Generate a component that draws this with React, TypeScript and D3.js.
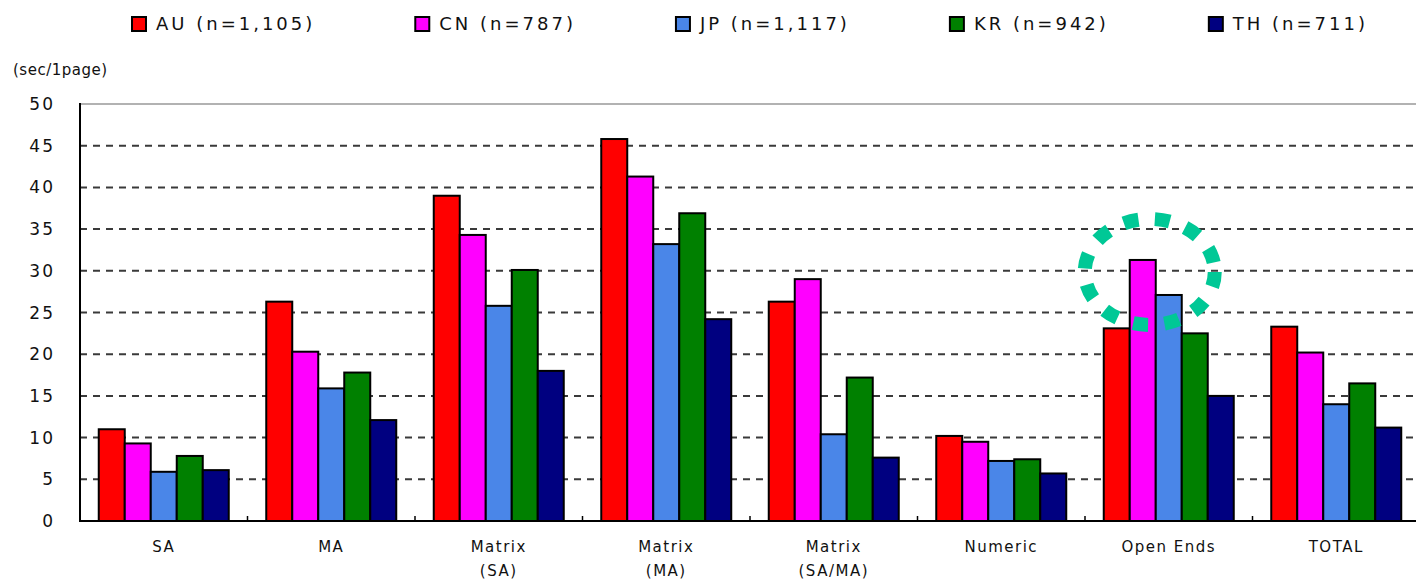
import React, { useRef, useEffect } from 'react';
import * as d3 from 'd3';

// categories (multi-line labels) and series
const categories = ['SA', 'MA', 'Matrix (SA)', 'Matrix (MA)', 'Matrix (SA/MA)', 'Numeric', 'Open Ends', 'TOTAL'];
const categoryLines = [['SA'], ['MA'], ['Matrix', '(SA)'], ['Matrix', '(MA)'], ['Matrix', '(SA/MA)'], ['Numeric'], ['Open Ends'], ['TOTAL']];
const series = ['AU', 'CN', 'JP', 'KR', 'TH'];
const seriesLabels = ['AU (n=1,105)', 'CN (n=787)', 'JP (n=1,117)', 'KR (n=942)', 'TH (n=711)'];
const colors = ['#ff0000', '#ff00ff', '#4a86e8', '#008000', '#000080'];

// values, sec per page
const AU = [11.0, 26.3, 39.0, 45.8, 26.3, 10.2, 23.1, 23.3];
const CN = [9.3, 20.3, 34.3, 41.3, 29.0, 9.5, 31.3, 20.2];
const JP = [5.9, 15.9, 25.8, 33.2, 10.4, 7.2, 27.1, 14.0];
const KR = [7.8, 17.8, 30.1, 36.9, 17.2, 7.4, 22.5, 16.5];
const TH = [6.1, 12.1, 18.0, 24.2, 7.6, 5.7, 15.0, 11.2];
const values = [AU, CN, JP, KR, TH];

const yTicks = [0, 5, 10, 15, 20, 25, 30, 35, 40, 45, 50];
const yUnit = '(sec/1page)';

// the circled bar
const highlightCategory = 'Open Ends';
const highlightSeries = 'CN';

const FONT = '"DejaVu Sans", sans-serif';

const App = () => {
  const svgRef = useRef(null);

  useEffect(() => {
    const width = 1416;
    const height = 580;
    const left = 80;
    const right = 1420;
    const top = 104;
    const bottom = 521;

    const svg = d3.select(svgRef.current);
    svg.selectAll('*').remove();
    svg.attr('width', width).attr('height', height);

    const x = d3.scaleBand().domain(categories).range([left, right]);
    const groupW = 130;
    const offset = (x.bandwidth() - groupW) / 2;
    const xSub = d3.scaleBand().domain(series).range([0, groupW]);
    const y = d3.scaleLinear().domain([0, 50]).range([bottom, top]);

    // grid
    svg.append('g')
      .selectAll('line')
      .data(yTicks.filter(t => t > 0 && t < 50))
      .enter()
      .append('line')
      .attr('x1', left)
      .attr('x2', right)
      .attr('y1', d => y(d))
      .attr('y2', d => y(d))
      .attr('stroke', '#3a3a3a')
      .attr('stroke-width', 2)
      .attr('stroke-dasharray', '7,6');

    // top border
    svg.append('line')
      .attr('x1', left).attr('x2', right)
      .attr('y1', y(50)).attr('y2', y(50))
      .attr('stroke', '#999').attr('stroke-width', 1.5);

    // bars
    const groups = svg.append('g')
      .selectAll('g')
      .data(categories)
      .enter()
      .append('g')
      .attr('transform', d => `translate(${x(d) + offset},0)`);

    groups.selectAll('rect')
      .data((c, ci) => series.map((s, si) => ({ s, si, v: values[si][ci] })))
      .enter()
      .append('rect')
      .attr('x', d => xSub(d.s))
      .attr('y', d => y(d.v))
      .attr('width', xSub.bandwidth())
      .attr('height', d => y(0) - y(d.v))
      .attr('fill', d => colors[d.si])
      .attr('stroke', '#000')
      .attr('stroke-width', 2);

    // axes
    svg.append('line')
      .attr('x1', left).attr('x2', left)
      .attr('y1', top - 1).attr('y2', bottom + 1)
      .attr('stroke', '#000').attr('stroke-width', 2);
    svg.append('line')
      .attr('x1', left - 1).attr('x2', right)
      .attr('y1', bottom).attr('y2', bottom)
      .attr('stroke', '#000').attr('stroke-width', 2);

    svg.append('g')
      .selectAll('line')
      .data(categories.slice(1))
      .enter()
      .append('line')
      .attr('x1', d => x(d)).attr('x2', d => x(d))
      .attr('y1', bottom).attr('y2', bottom - 5)
      .attr('stroke', '#000').attr('stroke-width', 1.5);

    // y labels
    svg.append('g')
      .selectAll('text')
      .data(yTicks)
      .enter()
      .append('text')
      .attr('x', 55)
      .attr('y', d => y(d) + 6)
      .attr('text-anchor', 'end')
      .attr('font-family', FONT)
      .attr('font-size', 17)
      .attr('letter-spacing', 2)
      .attr('fill', '#111')
      .text(d => d);

    svg.append('text')
      .attr('x', 13)
      .attr('y', 75)
      .attr('font-family', FONT)
      .attr('font-size', 15)
      .attr('letter-spacing', 0.5)
      .attr('fill', '#111')
      .text(yUnit);

    // x labels
    const xl = svg.append('g')
      .selectAll('text')
      .data(categories)
      .enter()
      .append('text')
      .attr('text-anchor', 'middle')
      .attr('font-family', FONT)
      .attr('font-size', 15)
      .attr('letter-spacing', 1.5)
      .attr('fill', '#111');
    xl.each(function (d, i) {
      const t = d3.select(this);
      categoryLines[i].forEach((line, li) => {
        t.append('tspan')
          .attr('x', x(d) + x.bandwidth() / 2)
          .attr('y', 552 + li * 24)
          .text(line);
      });
    });

    // legend
    let lx = 132;
    const legend = svg.append('g');
    seriesLabels.forEach((label, i) => {
      legend.append('rect')
        .attr('x', lx).attr('y', 17)
        .attr('width', 14).attr('height', 14)
        .attr('fill', colors[i])
        .attr('stroke', '#000').attr('stroke-width', 2);
      const t = legend.append('text')
        .attr('x', lx + 24)
        .attr('y', 30)
        .attr('font-family', FONT)
        .attr('font-size', 18)
        .attr('letter-spacing', 3)
        .attr('fill', '#111')
        .text(label);
      const w = t.node().getComputedTextLength();
      lx = lx + 24 + w + 100;
    });

    // dashed circle around highlighted bar
    const hi = categories.indexOf(highlightCategory);
    const si = series.indexOf(highlightSeries);
    const cx = x(highlightCategory) + offset + xSub(highlightSeries) + xSub.bandwidth() / 2 + 7;
    const cy = y(values[si][hi]) + 12;
    svg.append('ellipse')
      .attr('cx', cx).attr('cy', cy)
      .attr('rx', 65).attr('ry', 53)
      .attr('fill', 'none')
      .attr('stroke', '#00c896')
      .attr('stroke-width', 14)
      .attr('stroke-dasharray', '15,16.5');

    return () => {
      d3.select(svgRef.current).selectAll('*').remove();
    };
  }, []);

  return <svg ref={svgRef} style={{ position: 'absolute', left: 0, top: 0, background: '#fff' }}></svg>;
};

export default App;
